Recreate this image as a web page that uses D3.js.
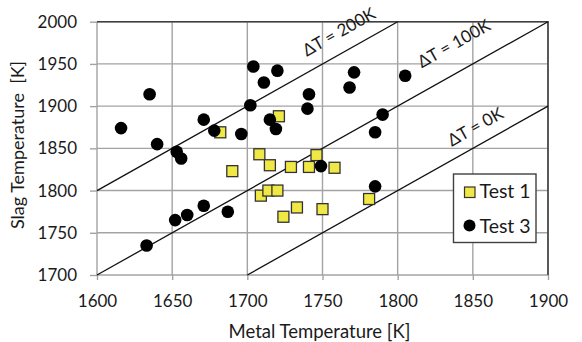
<!DOCTYPE html>
<html>
<head>
<meta charset="utf-8">
<script src="https://cdn.jsdelivr.net/npm/d3@7"></script>
<style>
  body { margin: 0; background: #fff; }
  text { font-family: Lato, "Open Sans", sans-serif; fill: #1a1a1a; }
</style>
</head>
<body>
<div id="chart"></div>
<script>

// data
var test1Metal = [1708, 1746, 1690, 1715, 1729, 1741, 1758, 1709, 1714, 1720, 1733, 1724, 1750, 1781, 1721, 1682];
var test1Slag  = [1843, 1842, 1823, 1830, 1828, 1828, 1827, 1794, 1800, 1800, 1780, 1769, 1778, 1790, 1888, 1869];

var test3Metal = [1704, 1720, 1711, 1635, 1741, 1702, 1740, 1715, 1671, 1616, 1719, 1678, 1696, 1640,
                  1653, 1656, 1771, 1768, 1805, 1790, 1785, 1749, 1671, 1660, 1652, 1687, 1633, 1785];
var test3Slag  = [1947, 1942, 1928, 1914, 1914, 1901, 1897, 1884, 1884, 1874, 1873, 1871, 1867, 1855,
                  1846, 1838, 1940, 1922, 1936, 1890, 1869, 1829, 1782, 1771, 1765, 1775, 1735, 1805];

var deltaT     = [200, 100, 0];
var deltaLabel = ['\u0394T = 200K', '\u0394T = 100K', '\u0394T = 0K'];
var xTicks     = [1600, 1650, 1700, 1750, 1800, 1850, 1900];
var yTicks     = [1700, 1750, 1800, 1850, 1900, 1950, 2000];

// config options
var width      = 582
  , height     = 342
  , margin     = { top: 21.7, right: 34, bottom: 67, left: 97 }
  , gridColor  = '#a3a3a3'
  , boxColor   = '#404040'
  , fillColor  = '#f0e845'
  , tickSize   = 17
  , titleSize  = 18.5
;

// where each delta-T label's baseline starts, in data units
var labelAt = [[1739.5, 1958.6], [1816, 1944.8], [1836, 1852]];

var innerW = width - margin.left - margin.right;
var innerH = height - margin.top - margin.bottom;

var x = d3.scaleLinear().domain([1600, 1900]).range([0, innerW]);
var y = d3.scaleLinear().domain([1700, 2000]).range([innerH, 0]);

var svg = d3.select('#chart').append('svg')
    .attr('width', width)
    .attr('height', height);

var g = svg.append('g')
    .attr('transform', 'translate(' + margin.left + ',' + margin.top + ')');

// gridlines
g.selectAll('line.vgrid')
    .data(xTicks)
    .enter()
    .append('line')
    .attr('class', 'vgrid')
    .attr('x1', function (d) { return x(d); })
    .attr('x2', function (d) { return x(d); })
    .attr('y1', 0)
    .attr('y2', innerH)
    .style('stroke', gridColor)
    .style('stroke-width', 1.4);

g.selectAll('line.hgrid')
    .data(yTicks)
    .enter()
    .append('line')
    .attr('class', 'hgrid')
    .attr('x1', 0)
    .attr('x2', innerW)
    .attr('y1', function (d) { return y(d); })
    .attr('y2', function (d) { return y(d); })
    .style('stroke', gridColor)
    .style('stroke-width', 1.4);

// axes (outside ticks, no domain path)
var xAxis = g.append('g')
    .attr('transform', 'translate(0,' + innerH + ')')
    .call(d3.axisBottom(x).tickValues(xTicks).tickSize(5).tickPadding(15).tickFormat(d3.format('d')));

var yAxis = g.append('g')
    .call(d3.axisLeft(y).tickValues(yTicks).tickSize(7).tickPadding(13).tickFormat(d3.format('d')));

[xAxis, yAxis].forEach(function (ax) {
  ax.select('.domain').remove();
  ax.selectAll('line').style('stroke', gridColor).style('stroke-width', 1.4);
  ax.selectAll('text').style('font-size', tickSize + 'px').style('font-family', 'Lato, sans-serif').attr('fill', '#1a1a1a');
});

// plot border: top and right are dark
g.append('path')
    .attr('d', 'M0,0H' + innerW + 'V' + innerH)
    .style('fill', 'none')
    .style('stroke', boxColor)
    .style('stroke-width', 1.6);

// delta-T lines, slag = metal + dT, clipped to the plot
g.selectAll('line.delta')
    .data(deltaT)
    .enter()
    .append('line')
    .attr('class', 'delta')
    .attr('x1', function (d) { return x(Math.max(1600, 1700 - d)); })
    .attr('y1', function (d) { return y(Math.max(1600, 1700 - d) + d); })
    .attr('x2', function (d) { return x(Math.min(1900, 2000 - d)); })
    .attr('y2', function (d) { return y(Math.min(1900, 2000 - d) + d); })
    .style('stroke', '#111')
    .style('stroke-width', 1.3);

var angle = Math.atan2(y(1800) - y(1900), x(1700) - x(1600)) * 180 / Math.PI;

g.selectAll('text.delta')
    .data(deltaLabel)
    .enter()
    .append('text')
    .attr('class', 'delta')
    .attr('transform', function (d, i) {
      return 'translate(' + x(labelAt[i][0]) + ',' + y(labelAt[i][1]) + ') rotate(' + (-angle) + ')';
    })
    .style('font-size', '17px')
    .text(function (d) { return d; });

// Test 1 squares
var sq = 11;
g.selectAll('rect.test1')
    .data(test1Metal)
    .enter()
    .append('rect')
    .attr('class', 'test1')
    .attr('x', function (d) { return x(d) - sq / 2; })
    .attr('y', function (d, i) { return y(test1Slag[i]) - sq / 2; })
    .attr('width', sq)
    .attr('height', sq)
    .style('fill', fillColor)
    .style('stroke', '#333')
    .style('stroke-width', 1.3);

// Test 3 circles
g.selectAll('circle.test3')
    .data(test3Metal)
    .enter()
    .append('circle')
    .attr('class', 'test3')
    .attr('cx', function (d) { return x(d); })
    .attr('cy', function (d, i) { return y(test3Slag[i]); })
    .attr('r', 6.3)
    .style('fill', '#000');

// legend
var legend = svg.append('g').attr('transform', 'translate(453.5,174)');

legend.append('rect')
    .attr('width', 82.5)
    .attr('height', 68.5)
    .style('fill', '#fff')
    .style('stroke', boxColor)
    .style('stroke-width', 1.4);

legend.append('rect')
    .attr('x', 11)
    .attr('y', 13)
    .attr('width', 10.5)
    .attr('height', 10.5)
    .style('fill', fillColor)
    .style('stroke', '#333')
    .style('stroke-width', 1.2);

legend.append('circle')
    .attr('cx', 16)
    .attr('cy', 51.5)
    .attr('r', 6)
    .style('fill', '#000');

legend.selectAll('text')
    .data(['Test 1', 'Test 3'])
    .enter()
    .append('text')
    .attr('x', 26)
    .attr('y', function (d, i) { return 24 + i * 34.5; })
    .style('font-size', '19.5px')
    .text(function (d) { return d; });

// axis titles
svg.append('text')
    .attr('x', margin.left + innerW / 2 - 3)
    .attr('y', 338)
    .attr('text-anchor', 'middle')
    .style('font-size', titleSize + 'px')
    .text('Metal Temperature [K]');

svg.append('text')
    .attr('transform', 'translate(24,145) rotate(-90)')
    .attr('text-anchor', 'middle')
    .style('font-size', '18px')
    .text('Slag Temperature\u00a0\u00a0[K]');

</script>
</body>
</html>
